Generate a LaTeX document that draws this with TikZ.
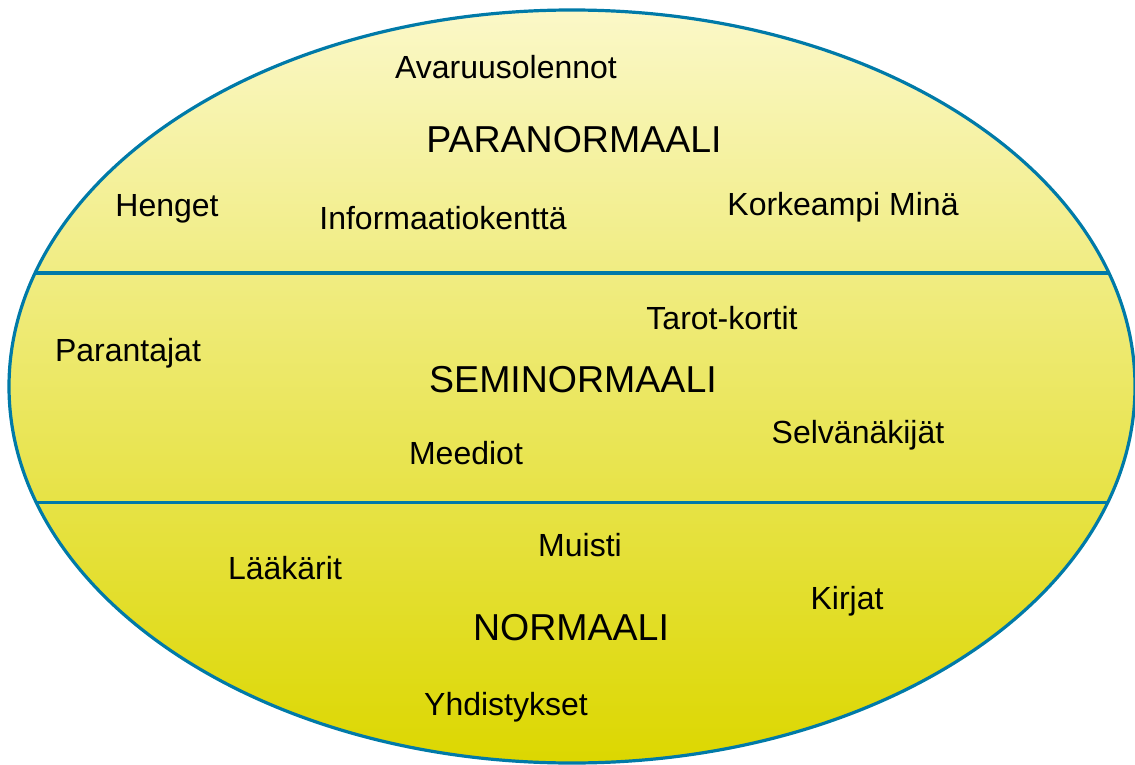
\documentclass[tikz,border=0pt]{standalone}
\usepackage{fontspec}
\setmainfont{Liberation Sans}
\definecolor{rimblue}{RGB}{0,122,168}
\definecolor{ytop}{RGB}{251,248,200}
\definecolor{ymid}{RGB}{236,233,138}
\definecolor{ybot}{RGB}{220,215,0}
\tikzset{
  lbl/.style={anchor=base, inner sep=0pt, font=\fontsize{32}{36}\selectfont},
  head/.style={anchor=base, inner sep=0pt, font=\fontsize{37.5}{40}\selectfont},
  rim/.style={draw=rimblue, line width=3.2pt},
}
\begin{document}
\begin{tikzpicture}[x=1pt,y=-1pt]
\useasboundingbox (0,0) rectangle (1135,765);
\begin{scope}
  \clip (572,386.5) ellipse [x radius=563, y radius=376.5];
  \shade[top color=ytop, middle color=ymid, bottom color=ybot] (0,10) rectangle (1135,763);
  \draw[rim] (0,273) -- (1135,273);
  \draw[rim] (0,502.5) -- (1135,502.5);
\end{scope}
\draw[rim] (572,386.5) ellipse [x radius=563, y radius=376.5];
% PARANORMAALI
\node[lbl] (ava) at (506,79) {Avaruusolennot};
\node[head] (para) at (574,152.5) {PARANORMAALI};
\node[lbl] (hen) at (167,216) {Henget};
\node[lbl] (inf) at (443,229) {Informaatiokenttä};
\node[lbl] (kor) at (843,215) {Korkeampi Minä};
% SEMINORMAALI
\node[lbl] (tar) at (722,329) {Tarot-kortit};
\node[lbl] (par) at (128,361) {Parantajat};
\node[head] (semi) at (573,392.5) {SEMINORMAALI};
\node[lbl] (sel) at (858,443) {Selvänäkijät};
\node[lbl] (mee) at (466,464) {Meediot};
% NORMAALI
\node[lbl] (mui) at (580,556) {Muisti};
\node[lbl] (laa) at (285,579) {Lääkärit};
\node[lbl] (kir) at (847,609) {Kirjat};
\node[head] (norm) at (571,640.5) {NORMAALI};
\node[lbl] (yhd) at (506,715) {Yhdistykset};
\end{tikzpicture}
\end{document}
